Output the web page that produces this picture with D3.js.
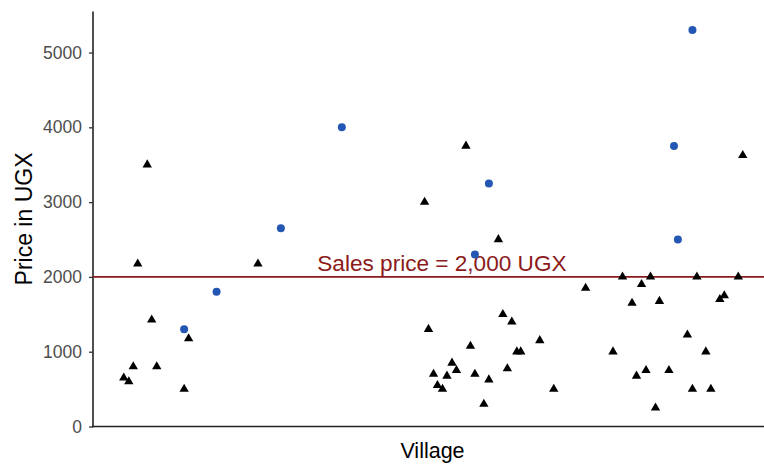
<!DOCTYPE html>
<html>
<head>
<meta charset="utf-8">
<script src="https://cdn.jsdelivr.net/npm/d3@7"></script>
<style>
  html, body { margin: 0; padding: 0; background: #fff; }
  svg { display: block; font-family: "Liberation Sans", Arial, Helvetica, sans-serif; }
</style>
</head>
<body>
<svg id="chart" width="764" height="467"></svg>
<script>
// ---- data ----
const yTicks = [0, 1000, 2000, 3000, 4000, 5000];
const salesPrice = 2000;
const salesLabel = "Sales price = 2,000 UGX";
const xTitle = "Village";
const yTitle = "Price in UGX";

// jittered position within the single "Village" category, and price (UGX)
const triangleX = [
  0.497, 0.480, 0.695, 0.505, 0.571, 0.472, 0.514, 0.455, 0.464, 0.563,
  1.067, 0.993, 1.125, 1.133, 1.149, 1.000, 1.199, 1.075, 1.158, 1.165,
  1.042, 1.141, 1.050, 1.009, 1.033, 1.083, 1.108, 1.016, 1.025, 1.224, 1.099,
  1.562, 1.347, 1.397, 1.480, 1.554, 1.281, 1.381, 1.364, 1.413, 1.521,
  1.529, 1.463, 1.330, 1.496, 1.389, 1.372, 1.430, 1.472, 1.505, 1.406
];
const trianglePrice = [
  3500, 2175, 2175, 1425, 1175, 800, 800, 650, 600, 500,
  3750, 3000, 2500, 1500, 1400, 1300, 1150, 1075, 1000, 1000,
  850, 775, 750, 700, 675, 700, 625, 550, 500, 500, 300,
  3625, 2000, 2000, 2000, 2000, 1850, 1900, 1650, 1675, 1700,
  1750, 1225, 1000, 1000, 750, 675, 750, 500, 500, 250
];
const circleX = [0.563, 0.621, 0.736, 0.845, 1.083, 1.108, 1.439, 1.446, 1.472];
const circlePrice = [1300, 1800, 2650, 4000, 2300, 3250, 3750, 2500, 5300];

// ---- layout ----
const svg = d3.select("#chart");
const mLeft = 93, mRight = 764, mTop = 11.4, mBottom = 426.5;

const x = d3.scaleLinear().domain([0.4, 1.6]).range([mLeft, mRight]);
const y = d3.scaleLinear().domain([0, 5550]).range([mBottom, mTop]);

// y axis
const yAxis = svg.append("g")
  .attr("transform", `translate(${mLeft},0)`)
  .call(d3.axisLeft(y).tickValues(yTicks).tickSize(4).tickPadding(7).tickFormat(d3.format("d")));
yAxis.select(".domain").attr("stroke", "#222").attr("stroke-width", 1.6)
  .attr("d", `M0,${mTop}V${mBottom + 0.8}`);
yAxis.selectAll(".tick line").attr("stroke", "#333").attr("stroke-width", 1.3);
yAxis.selectAll(".tick text").attr("fill", "#4d4d4d").style("font-size", "17.5px")
  .style("font-family", "'Liberation Sans', Arial, sans-serif");

// x axis (no ticks)
const xAxis = svg.append("g")
  .attr("transform", `translate(0,${mBottom})`)
  .call(d3.axisBottom(x).tickValues([]).tickSizeOuter(0));
xAxis.select(".domain").attr("stroke", "#222").attr("stroke-width", 1.6)
  .attr("d", `M${mLeft - 0.8},0H${mRight}`);

// reference line
svg.append("line")
  .attr("x1", mLeft).attr("x2", mRight)
  .attr("y1", y(salesPrice)).attr("y2", y(salesPrice))
  .attr("stroke", "#8B1A1A").attr("stroke-width", 1.8);

svg.append("text")
  .attr("x", x(1.024)).attr("y", y(salesPrice) - 6)
  .attr("text-anchor", "middle")
  .attr("fill", "#8B1A1A")
  .style("font-size", "22.6px")
  .text(salesLabel);

// triangles
const tri = d3.symbol().type(d3.symbolTriangle).size(38);
svg.append("g").selectAll("path")
  .data(triangleX.map((v, i) => ({ x: v, p: trianglePrice[i] })))
  .join("path")
  .attr("d", tri)
  .attr("transform", d => `translate(${x(d.x)},${y(d.p)})`)
  .attr("fill", "#000");

// circles
svg.append("g").selectAll("circle")
  .data(circleX.map((v, i) => ({ x: v, p: circlePrice[i] })))
  .join("circle")
  .attr("cx", d => x(d.x)).attr("cy", d => y(d.p))
  .attr("r", 4)
  .attr("fill", "#2457B3");

// axis titles
svg.append("text")
  .attr("x", (mLeft + mRight) / 2 + 4).attr("y", 458)
  .attr("text-anchor", "middle")
  .attr("fill", "#000")
  .style("font-size", "21.5px")
  .text(xTitle);

svg.append("text")
  .attr("transform", `translate(32,${(mTop + mBottom) / 2}) rotate(-90)`)
  .attr("text-anchor", "middle")
  .attr("fill", "#000")
  .style("font-size", "23px")
  .text(yTitle);
</script>
</body>
</html>
